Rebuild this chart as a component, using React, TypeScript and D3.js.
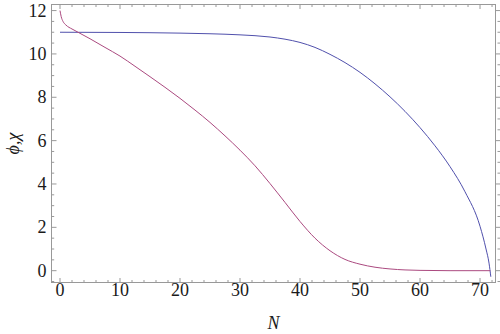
import React from 'react';
import * as d3 from 'd3';

// phi (blue) and chi (purple) against N
const phiN = [0, 10, 20, 25, 30, 35, 37.5, 40, 42.5, 45, 47.5, 50, 52.5, 55, 57.5, 60, 62.5, 65, 67.5, 70, 71, 71.5, 71.8];
const phiV = [11.0, 10.99, 10.96, 10.93, 10.88, 10.78, 10.68, 10.53, 10.3, 9.98, 9.6, 9.15, 8.62, 8.02, 7.35, 6.6, 5.76, 4.8, 3.64, 2.05, 1.0, 0.35, -0.28];

const chiN = [0, 0.2, 0.5, 1, 2, 3, 5, 7.5, 10, 12.5, 15, 17.5, 20, 22.5, 25, 27.5, 30, 32.5, 35, 37.5, 40, 42.5, 45, 47.5, 50, 52.5, 55, 57.5, 60, 65, 71.7];
const chiV = [12.0, 11.72, 11.5, 11.33, 11.15, 11.0, 10.7, 10.3, 9.9, 9.43, 8.95, 8.46, 7.95, 7.41, 6.84, 6.22, 5.56, 4.84, 4.02, 3.15, 2.27, 1.5, 0.92, 0.52, 0.3, 0.16, 0.08, 0.035, 0.015, 0.0, 0.0];

const xTicks = [0, 10, 20, 30, 40, 50, 60, 70];
const yTicks = [0, 2, 4, 6, 8, 10, 12];

const width = 500;
const height = 334;
const margin = { top: 4.5, right: 4.5, bottom: 51.5, left: 51.5 };

const font = '"Times New Roman", "Liberation Serif", serif';
const frameColor = '#999';

export default function App() {
  const x = d3.scaleLinear().domain([-1.417, 72.58]).range([margin.left, width - margin.right]);
  const y = d3.scaleLinear().domain([-0.545, 12.28]).range([height - margin.bottom, margin.top]);

  const line = d3.line<[number, number]>()
    .x(d => x(d[0]))
    .y(d => y(d[1]))
    .curve(d3.curveMonotoneX);

  const phi = phiN.map((n, i) => [n, phiV[i]] as [number, number]);
  const chi = chiN.map((n, i) => [n, chiV[i]] as [number, number]);

  const x0 = margin.left, x1 = width - margin.right;
  const y0 = height - margin.bottom, y1 = margin.top;

  // minor ticks
  const xMinor = d3.range(0, 73, 2).filter(v => v % 10 !== 0);
  const yMinor = d3.range(-0.5, 12.3, 0.5).filter(v => v % 2 !== 0);

  const textStyle = { fontFamily: font, fontSize: '18px' };

  return (
    <svg width={width} height={height} style={{ position: 'absolute', left: 0, top: 0, background: '#fff' }}>
      <defs>
        <clipPath id="plot">
          <rect x={x0} y={y1} width={x1 - x0} height={y0 - y1} />
        </clipPath>
      </defs>

      <g stroke={frameColor} strokeWidth={1} fill="none">
        <rect x={x0} y={y1} width={x1 - x0} height={y0 - y1} />
        {xTicks.map(t => (
          <g key={'xt' + t}>
            <line x1={x(t)} x2={x(t)} y1={y0} y2={y0 - 4.5} />
            <line x1={x(t)} x2={x(t)} y1={y1} y2={y1 + 4.5} />
          </g>
        ))}
        {xMinor.map(t => (
          <g key={'xm' + t}>
            <line x1={x(t)} x2={x(t)} y1={y0} y2={y0 - 2.5} />
            <line x1={x(t)} x2={x(t)} y1={y1} y2={y1 + 2.5} />
          </g>
        ))}
        {yTicks.map(t => (
          <g key={'yt' + t}>
            <line x1={x0} x2={x0 + 5} y1={y(t)} y2={y(t)} />
            <line x1={x1} x2={x1 + 5} y1={y(t)} y2={y(t)} />
          </g>
        ))}
        {yMinor.map(t => (
          <g key={'ym' + t}>
            <line x1={x0} x2={x0 + 2.7} y1={y(t)} y2={y(t)} />
            <line x1={x1 + 2} x2={x1 + 5} y1={y(t)} y2={y(t)} />
          </g>
        ))}
      </g>

      <g clipPath="url(#plot)" fill="none" strokeWidth={1}>
        <path d={line(phi) || ''} stroke="#5050ac" />
        <path d={line(chi) || ''} stroke="#ab4a80" />
      </g>

      <g fill="#1a1a1a">
        {xTicks.map(t => (
          <text key={'xl' + t} x={x(t)} y={y0 + 13} textAnchor="middle" style={textStyle}>{t}</text>
        ))}
        {yTicks.map(t => (
          <text key={'yl' + t} x={x0 - 5} y={y(t) + 6} textAnchor="end" style={textStyle}>{t}</text>
        ))}
        <text x={(x0 + x1) / 2} y={329} textAnchor="middle" fontStyle="italic" style={textStyle}>N</text>
        <text
          transform={`translate(19,${(y0 + y1) / 2}) rotate(-90)`}
          textAnchor="middle"
          fontStyle="italic"
          style={textStyle}
        >ϕ,χ</text>
      </g>
    </svg>
  );
}
